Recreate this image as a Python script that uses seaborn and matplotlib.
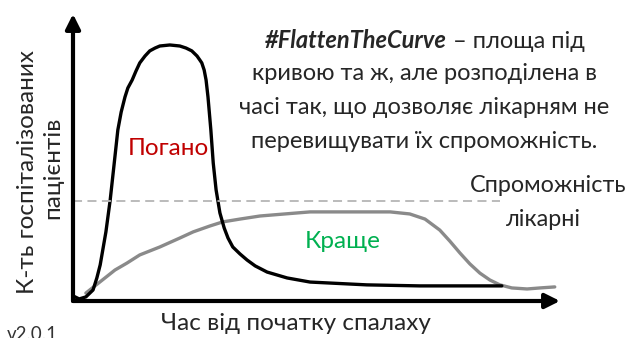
import numpy as np
import pandas as pd
import matplotlib
matplotlib.use('Agg')
import matplotlib.pyplot as plt
import seaborn as sns

# Час (умовні одиниці) і к-ть госпіталізованих (умовні одиниці)
bad_time = [0.0, 1.3, 2.7, 4.2, 5.0, 5.7, 6.9, 7.8, 8.6, 9.4, 10.1, 10.9, 11.5, 12.4,
            13.2, 14.0, 15.1, 16.1, 17.2, 18.2, 20.3, 22.4, 23.7, 24.9, 26.0, 26.6,
            27.0, 27.5, 27.9, 28.3, 28.9, 29.4, 30.0, 30.8, 31.7, 32.5, 33.5, 35.0,
            36.5, 38.2, 40.7, 44.9, 49.7, 61.6, 72.7, 89.9]
bad_cases = [2.0, 0.8, 1.6, 4.3, 9.0, 14.1, 27.0, 39.5, 53.1, 66.8, 73.8, 79.7, 83.2, 86.3,
             89.8, 93.0, 95.7, 97.7, 98.8, 99.6, 100.0, 99.6, 98.8, 97.7, 95.7, 94.1,
             93.0, 90.2, 86.3, 79.7, 66.8, 53.9, 43.4, 34.4, 28.5, 24.6, 21.1, 18.4,
             16.0, 13.7, 11.3, 9.0, 7.4, 6.3, 5.9, 5.9]

better_time = [2.7, 4.6, 6.7, 8.8, 11.3, 14.0, 18.2, 22.4, 25.2, 28.7, 31.4, 35.0, 39.2,
               44.4, 49.7, 58.1, 66.5, 70.6, 73.8, 76.9, 79.0, 81.1, 83.2, 85.3, 87.4,
               89.5, 92.0, 95.2, 97.9, 101.0]
better_cases = [3.1, 5.9, 9.0, 12.1, 14.8, 18.0, 21.1, 24.6, 27.0, 29.3, 30.9, 32.0, 33.2,
                34.0, 34.8, 34.8, 34.8, 34.0, 32.0, 27.7, 23.4, 18.8, 14.5, 10.9, 8.2,
                6.3, 5.1, 4.7, 5.1, 5.5]

capacity = 39.2
capacity_end = 89.5

bad = pd.DataFrame({'time': bad_time, 'cases': bad_cases})
better = pd.DataFrame({'time': better_time, 'cases': better_cases})

sns.set_theme(style='white')
plt.rcParams['font.family'] = ['Lato', 'DejaVu Sans']

W, H = 632, 338
fig = plt.figure(figsize=(W / 100, H / 100), dpi=100)
ax = fig.add_axes([73 / W, (H - 301) / H, (560 - 73) / W, (301 - 14) / H])

sns.lineplot(data=better, x='time', y='cases', color='#8a8a8a', lw=2.4,
             sort=False, estimator=None, ax=ax)
sns.lineplot(data=bad, x='time', y='cases', color='black', lw=2.4,
             sort=False, estimator=None, ax=ax)
ax.hlines(capacity, 0, capacity_end, colors='#b5b5b5', linestyles=(0, (5, 3)), lw=1.3)

ax.set_xlim(0, 102.1)
ax.set_ylim(0, 112.1)
ax.set_xticks([])
ax.set_yticks([])
ax.set_xlabel('')
ax.set_ylabel('')
for s in ax.spines.values():
    s.set_visible(False)

# осі зі стрілками
arrow = dict(arrowstyle='-|>', lw=3, color='black', mutation_scale=22, shrinkA=0, shrinkB=0)
ax.annotate('', xy=(1, 0), xytext=(0, 0), xycoords='axes fraction', arrowprops=arrow)
ax.annotate('', xy=(0, 1), xytext=(0, 0), xycoords='axes fraction', arrowprops=arrow)


def px(x, y):
    return x / W, 1 - y / H


fs = 17.5
fig.text(*px(28, 172), 'К-ть госпіталізованих', rotation=90, fontsize=fs,
         ha='center', va='center')
fig.text(*px(53, 168), 'пацієнтів', rotation=90, fontsize=fs, ha='center', va='center')
fig.text(*px(296, 324), 'Час від початку спалаху', fontsize=fs, ha='center', va='center')
fig.text(*px(7, 326), 'v2.0.1', fontsize=13.5, ha='left', va='top', color='#333333')

fig.text(*px(168, 149), 'Погано', fontsize=fs, ha='center', va='center', color='#c00000')
fig.text(*px(343, 242), 'Краще', fontsize=fs, ha='center', va='center', color='#00b050')
fig.text(*px(548, 185), 'Спроможність', fontsize=16.8, ha='center', va='center',
         color='#262626')
fig.text(*px(543, 219), 'лікарні', fontsize=16.8, ha='center', va='center', color='#262626')

# перший рядок: жирний курсив + звичайний текст, разом по центру
ft = 17
t1 = fig.text(*px(0, 41), '#FlattenTheCurve', fontsize=ft, fontweight='bold',
              fontstyle='italic', ha='left', va='center')
t2 = fig.text(*px(0, 41), ' – площа під', fontsize=ft, ha='left', va='center')
r = fig.canvas.get_renderer()
w1 = t1.get_window_extent(r).width
w2 = t2.get_window_extent(r).width
x0 = 425 - (w1 + w2) / 2
t1.set_x(x0 / W)
t2.set_x((x0 + w1) / W)

lines = ['кривою та ж, але розподілена в',
         'часі так, що дозволяє лікарням не',
         'перевищувати їх спроможність.']
for i, s in enumerate(lines):
    fig.text(*px(424, 74 + 33.5 * i), s, fontsize=ft, ha='center', va='center')

plt.savefig('out.png', dpi=100)
